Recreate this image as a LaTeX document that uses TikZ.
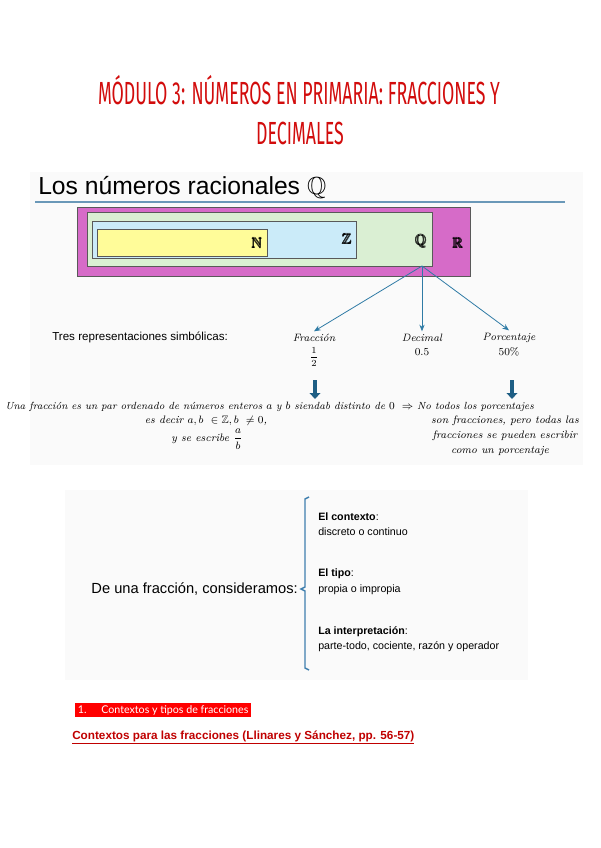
\documentclass[tikz,border=0pt]{standalone}
\usepackage{amsmath,amssymb}
\usepackage{fontspec}
\usetikzlibrary{arrows.meta,positioning}
\newfontfamily\titlefont[FakeStretch=0.555]{Fira Sans}
\newfontfamily\arialfont{Liberation Sans}
\newfontfamily\gothfont{Lato}
\definecolor{titlered}{HTML}{D20C0C}
\definecolor{rulecol}{HTML}{6A98B8}
\definecolor{rmagenta}{HTML}{D66BC8}
\definecolor{qgreen}{HTML}{DAEFD3}
\definecolor{zblue}{HTML}{CBEBF9}
\definecolor{nyellow}{HTML}{FFFC99}
\definecolor{arrowblue}{HTML}{2F7BA5}
\definecolor{downblue}{HTML}{1E5E84}
\definecolor{bracecol}{HTML}{3F7FAE}
\definecolor{hlred}{HTML}{FF0000}
\definecolor{linkred}{HTML}{C00000}
\definecolor{cardgray}{HTML}{FAFAFA}

\begin{document}
\begin{tikzpicture}[x=0.75pt,y=-0.75pt,
  setbox/.style={draw=black!65, line width=0.6pt},
  setlabel/.style={font=\fontsize{11}{12}\selectfont, inner sep=0pt},
  reparrow/.style={-{Stealth[length=5pt,width=4pt]}, draw=arrowblue, line width=0.6pt},
  bigdown/.style={-{Triangle[length=4.5pt,width=8pt]}, draw=downblue, line width=3pt},
  repr/.style={font=\fontsize{8}{9}\selectfont\itshape, inner sep=2pt},
  mathline/.style={font=\fontsize{8.1}{10}\selectfont\itshape, inner sep=0pt},
  item/.style={anchor=west, font=\arialfont\fontsize{8}{9}\selectfont, inner sep=0pt},
]
\useasboundingbox (0,0) rectangle (600,848);
\fill[white] (0,0) rectangle (600,848);

% Title
\node[text=titlered, font=\titlefont\fontsize{24}{26}\selectfont] (title1) at (299,90) {MÓDULO 3: NÚMEROS EN PRIMARIA: FRACCIONES Y};
\node[text=titlered, font=\titlefont\fontsize{24}{26}\selectfont] (title2) at (300,133) {DECIMALES};

% Cards
\fill[cardgray] (30,172) rectangle (583,465);
\fill[cardgray] (65,490) rectangle (528,680);

% Heading
\node[anchor=base west, font=\arialfont\fontsize{18.5}{21}\selectfont, inner sep=0pt] (heading) at (38,195) {Los números racionales $\mathbb{Q}$};
\draw[rulecol, line width=1.2pt] (35,202) -- (565,202);

% Number sets
\draw[setbox, fill=rmagenta] (77,207) rectangle (470,276);
\draw[setbox, fill=qgreen] (87,212) rectangle (432,266);
\draw[setbox, fill=zblue] (92,221) rectangle (356,258);
\draw[setbox, fill=nyellow] (97,229) rectangle (267,256);
\node[setlabel] (nlab) at (257,243) {$\pmb{\mathbb{N}}$};
\node[setlabel] (zlab) at (347,239) {$\pmb{\mathbb{Z}}$};
\node[setlabel] (qlab) at (421,241) {$\pmb{\mathbb{Q}}$};
\node[setlabel] (rlab) at (458,243) {$\pmb{\mathbb{R}}$};
\coordinate (qbot) at (422,266);

% Representations
\node[anchor=west, font=\arialfont\fontsize{8.7}{10}\selectfont, inner sep=0pt] (tres) at (52,337) {Tres representaciones simbólicas:};
\node[repr] (frac) at (314,338) {Fracción};
\node[font=\fontsize{7.5}{9}\selectfont, inner sep=0pt] (fracval) at (314,357) {$\dfrac{1}{2}$};
\node[repr] (dec) at (422,338) {Decimal};
\node[font=\fontsize{8}{9}\selectfont, inner sep=0pt] (decval) at (422,352) {0.5};
\node[repr] (porc) at (509,338) {Porcentaje};
\node[font=\fontsize{8}{9}\selectfont, inner sep=0pt] (porcval) at (509,352) {50\%};
\draw[reparrow] (qbot) -- (frac.north);
\draw[reparrow] (qbot) -- (dec.north);
\draw[reparrow] (qbot) -- (porc.north);

% Thick arrows
\coordinate (fdtop) at (315,380);
\coordinate (fdbot) at (315,399);
\coordinate (pdtop) at (512,380);
\coordinate (pdbot) at (512,399);
\draw[bigdown] (fdtop) -- (fdbot);
\draw[bigdown] (pdtop) -- (pdbot);

% Definitions
\node[mathline, font=\fontsize{7.75}{10}\selectfont\itshape, anchor=base west] (defrow) at (5,409) {Una fracción es un par ordenado de números enteros $a$ y $b$ siendab distinto de $0\ \Rightarrow$ No todos los porcentajes};
\node[mathline] (esdecir) at (206,421) {es decir $a,b\ \in \mathbb{Z}, b\ \neq 0$,};
\node[mathline] (escribe) at (207,439) {y se escribe $\dfrac{a}{b}$};
\node[mathline] (porc1) at (505,421) {son fracciones, pero todas las};
\node[mathline] (porc2) at (505,436) {fracciones se pueden escribir};
\node[mathline] (porc3) at (500,451) {como un porcentaje};

% Second section
\node[anchor=east, font=\arialfont\fontsize{11}{13}\selectfont, inner sep=0pt] (consid) at (298,589) {De una fracción, consideramos:};
\draw[bracecol, line width=1.1pt] (309,497) -- (305,499) -- (305,587) -- (301,589) -- (305,591) -- (305,668) -- (309,670);
\node[item] (ctx) at (318,517) {\textbf{El contexto}:};
\node[item] (ctxv) at (318,532) {discreto o continuo};
\node[item] (tipo) at (318,574) {\textbf{El tipo}:};
\node[item] (tipov) at (318,590) {propia o impropia};
\node[item] (interp) at (318,632) {\textbf{La interpretación}:};
\node[item] (interpv) at (318,647) {parte-todo, cociente, razón y operador};

% Bottom
\node[anchor=west, fill=hlred, text=white, font=\gothfont\fontsize{8}{9}\selectfont, minimum height=11pt, inner xsep=2pt, inner ysep=0pt] (sect) at (75,710) {1.\hspace{11pt}Contextos y tipos de fracciones};
\node[anchor=base west, text=linkred, font=\arialfont\bfseries\fontsize{8.8}{10}\selectfont, inner sep=0pt] (ref) at (72,739) {\underline{Contextos para las fracciones (Llinares y Sánchez, pp. 56-57)}};
\end{tikzpicture}
\end{document}
